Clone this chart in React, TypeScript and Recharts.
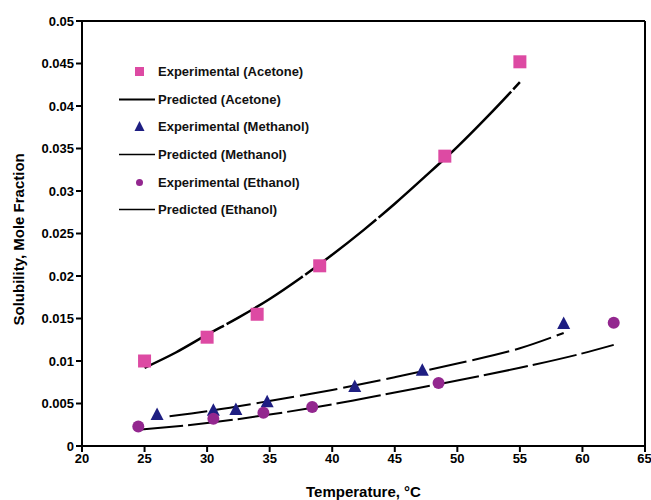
import React from 'react';
import {
  ComposedChart, Line, Scatter, XAxis, YAxis, Legend, ReferenceLine,
} from 'recharts';

const xTicks = [20, 25, 30, 35, 40, 45, 50, 55, 60, 65];
const yTicks = [0, 0.005, 0.01, 0.015, 0.02, 0.025, 0.03, 0.035, 0.04, 0.045, 0.05];

const expAcetone = [
  { x: 25, y: 0.0100 }, { x: 30, y: 0.0128 }, { x: 34, y: 0.0155 },
  { x: 39, y: 0.0212 }, { x: 49, y: 0.0341 }, { x: 55, y: 0.0452 },
];
const predAcetone = [
  { x: 25, y: 0.0092 }, { x: 27.5, y: 0.0110 }, { x: 30, y: 0.0131 }, { x: 32.5, y: 0.0151 },
  { x: 35, y: 0.0173 }, { x: 37.5, y: 0.0198 }, { x: 40, y: 0.0225 }, { x: 42.5, y: 0.0254 },
  { x: 45, y: 0.0285 }, { x: 47.5, y: 0.0318 }, { x: 50, y: 0.0352 }, { x: 52.5, y: 0.0389 },
  { x: 55, y: 0.0428 },
];
const expMethanol = [
  { x: 26, y: 0.0037 }, { x: 30.5, y: 0.0042 }, { x: 32.3, y: 0.0043 }, { x: 34.8, y: 0.0052 },
  { x: 41.8, y: 0.0070 }, { x: 47.2, y: 0.0089 }, { x: 58.5, y: 0.0144 },
];
const predMethanol = [
  { x: 27, y: 0.0035 }, { x: 30, y: 0.0041 }, { x: 35, y: 0.0053 }, { x: 40, y: 0.0066 },
  { x: 45, y: 0.0081 }, { x: 50, y: 0.0097 }, { x: 55, y: 0.0115 }, { x: 58.5, y: 0.0133 },
];
const expEthanol = [
  { x: 24.5, y: 0.0023 }, { x: 30.5, y: 0.0032 }, { x: 34.5, y: 0.0039 }, { x: 38.4, y: 0.0046 },
  { x: 48.5, y: 0.0074 }, { x: 62.5, y: 0.0145 },
];
const predEthanol = [
  { x: 24.5, y: 0.0019 }, { x: 30, y: 0.0027 }, { x: 35, y: 0.0037 }, { x: 40, y: 0.0049 },
  { x: 45, y: 0.0063 }, { x: 50, y: 0.0077 }, { x: 55, y: 0.0092 }, { x: 60, y: 0.0109 },
  { x: 62.5, y: 0.0119 },
];

const legendLabels = [
  'Experimental (Acetone)', 'Predicted (Acetone)', 'Experimental (Methanol)',
  'Predicted (Methanol)', 'Experimental (Ethanol)', 'Predicted (Ethanol)',
];

const PINK = '#dd4aa3';
const NAVY = '#1e1e82';
const PURPLE = '#93278f';
const FONT = '"Liberation Sans", Arial, sans-serif';

const SquareShape = (p: any) => (
  <rect x={p.cx - 6.5} y={p.cy - 6.5} width={13} height={13} fill={PINK} />
);
const TriShape = (p: any) => (
  <polygon points={`${p.cx},${p.cy - 7} ${p.cx - 6.5},${p.cy + 5.5} ${p.cx + 6.5},${p.cy + 5.5}`} fill={NAVY} />
);
const CircleShape = (p: any) => (
  <circle cx={p.cx} cy={p.cy} r={6} fill={PURPLE} />
);

const legendMarker = (i: number) => {
  if (i === 0) return <rect x={16} y={5} width={9} height={9} fill={PINK} />;
  if (i === 2) return <polygon points="20.5,4 15.5,14 25.5,14" fill={NAVY} />;
  if (i === 4) return <circle cx={20.5} cy={9.5} r={3.5} fill={PURPLE} />;
  return <line x1={0} y1={9.5} x2={36} y2={9.5} stroke="#000" strokeWidth={i === 1 ? 2.2 : 1.6} />;
};

const renderLegend = () => (
  <div style={{ fontFamily: FONT, fontWeight: 'bold', fontSize: 13, color: '#111' }}>
    {legendLabels.map((l, i) => (
      <div key={l} style={{ display: 'flex', alignItems: 'center', height: 27.6 }}>
        <svg width={37} height={19} style={{ display: 'block' }}>{legendMarker(i)}</svg>
        <span style={{ marginLeft: 2, whiteSpace: 'nowrap' }}>{l}</span>
      </div>
    ))}
  </div>
);

const fmt = (v: number) => (v === 0 ? '0' : String(Number(v.toFixed(3))));

export default function App() {
  return (
    <div style={{ position: 'absolute', left: 0, top: 0, background: '#fff' }}>
      <ComposedChart width={651} height={500} margin={{ top: 21, right: 6, bottom: 24, left: 0 }}>
        <XAxis
          type="number" dataKey="x" domain={[20, 65]} ticks={xTicks} allowDataOverflow
          stroke="#000" strokeWidth={2} tickSize={6} tickLine={{ stroke: '#000', strokeWidth: 2 }}
          tick={{ fill: '#000', fontFamily: FONT, fontWeight: 'bold', fontSize: 13 }}
          height={30}
          label={{ value: 'Temperature, °C', position: 'insideBottom', offset: -21, fill: '#000', fontFamily: FONT, fontWeight: 'bold', fontSize: 15 }}
        />
        <YAxis
          type="number" domain={[0, 0.05]} ticks={yTicks} allowDataOverflow tickFormatter={fmt}
          stroke="#000" strokeWidth={2} tickSize={6} tickLine={{ stroke: '#000', strokeWidth: 2 }}
          tick={{ fill: '#000', fontFamily: FONT, fontWeight: 'bold', fontSize: 13 }}
          width={82}
          label={{ value: 'Solubility, Mole Fraction', angle: -90, position: 'insideLeft', offset: 19, dy: 92, fill: '#000', fontFamily: FONT, fontWeight: 'bold', fontSize: 15 }}
        />
        <ReferenceLine y={0.05} stroke="#000" strokeWidth={2} />
        <ReferenceLine x={65} stroke="#000" strokeWidth={2} />
        <Line data={predAcetone} dataKey="y" type="monotone" stroke="#000" strokeWidth={2.5} strokeDasharray="90 3" dot={false} isAnimationActive={false} legendType="none" />
        <Line data={predMethanol} dataKey="y" type="monotone" stroke="#000" strokeWidth={2} strokeDasharray="38 6" dot={false} isAnimationActive={false} legendType="none" />
        <Line data={predEthanol} dataKey="y" type="monotone" stroke="#000" strokeWidth={2} strokeDasharray="45 5" dot={false} isAnimationActive={false} legendType="none" />
        <Scatter data={expAcetone} dataKey="y" shape={SquareShape} isAnimationActive={false} />
        <Scatter data={expMethanol} dataKey="y" shape={TriShape} isAnimationActive={false} />
        <Scatter data={expEthanol} dataKey="y" shape={CircleShape} isAnimationActive={false} />
        <Legend
          layout="vertical" verticalAlign="middle" align="center"
          content={renderLegend}
          wrapperStyle={{ position: 'absolute', left: 119, top: 58, width: 240, height: 170 }}
        />
      </ComposedChart>
    </div>
  );
}
